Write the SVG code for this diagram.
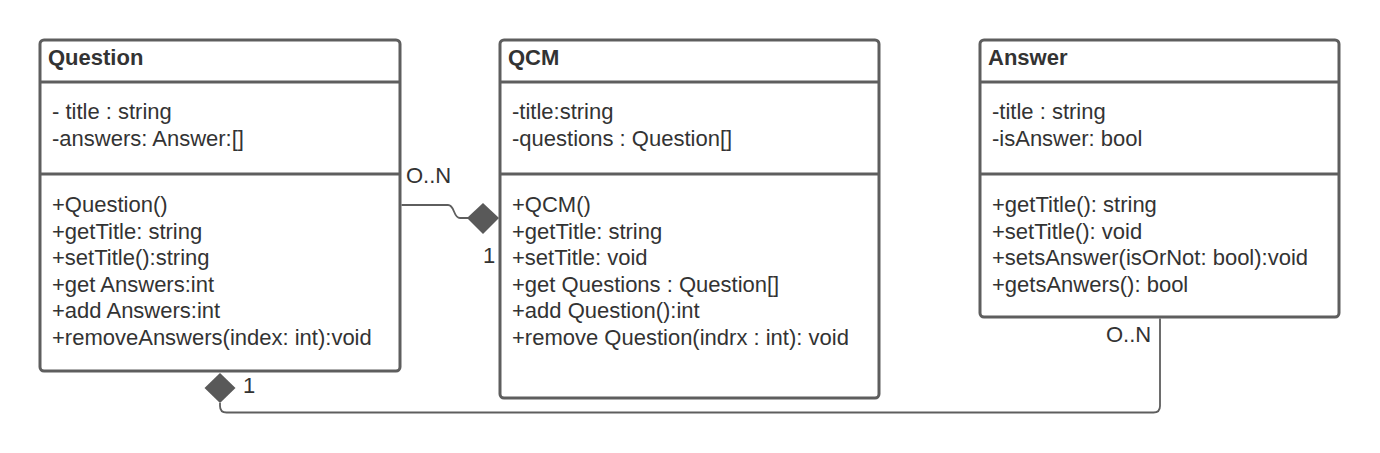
<svg xmlns="http://www.w3.org/2000/svg" width="1380" height="453" viewBox="0 0 1380 453">
<style>
.box{fill:#fff;stroke:#5e5e5e;stroke-width:3}
.div{stroke:#5e5e5e;stroke-width:3}
.t{font-family:"Liberation Sans",Arial,sans-serif;font-size:22px;fill:#333}
.h{font-family:"Liberation Sans",Arial,sans-serif;font-size:22px;font-weight:bold;fill:#333}
.c{fill:none;stroke:#5e5e5e;stroke-width:1.8}
.d{fill:#595959}
</style>
<rect width="1380" height="453" fill="#fff"/>
<g id="Question">
<rect class="box" x="40" y="40" width="360" height="331" rx="4"/>
<line class="div" x1="40" y1="82" x2="400" y2="82"/>
<line class="div" x1="40" y1="174" x2="400" y2="174"/>
<text class="h" x="48" y="65">Question</text>
<text class="t" x="52" y="119">- title : string</text>
<text class="t" x="52" y="145.5">-answers: Answer:[]</text>
<text class="t" x="52" y="212">+Question()</text>
<text class="t" x="52" y="238.5">+getTitle: string</text>
<text class="t" x="52" y="265">+setTitle():string</text>
<text class="t" x="52" y="291.5">+get Answers:int</text>
<text class="t" x="52" y="318">+add Answers:int</text>
<text class="t" x="52" y="344.5">+removeAnswers(index: int):void</text>
</g>
<g id="QCM">
<rect class="box" x="500" y="40" width="379" height="358" rx="4"/>
<line class="div" x1="500" y1="82" x2="879" y2="82"/>
<line class="div" x1="500" y1="174" x2="879" y2="174"/>
<text class="h" x="508" y="65">QCM</text>
<text class="t" x="512" y="119">-title:string</text>
<text class="t" x="512" y="145.5">-questions : Question[]</text>
<text class="t" x="512" y="212">+QCM()</text>
<text class="t" x="512" y="238.5">+getTitle: string</text>
<text class="t" x="512" y="265">+setTitle: void</text>
<text class="t" x="512" y="291.5">+get Questions : Question[]</text>
<text class="t" x="512" y="318">+add Question():int</text>
<text class="t" x="512" y="344.5">+remove Question(indrx : int): void</text>
</g>
<g id="Answer">
<rect class="box" x="980" y="40" width="359" height="277" rx="4"/>
<line class="div" x1="980" y1="82" x2="1339" y2="82"/>
<line class="div" x1="980" y1="174" x2="1339" y2="174"/>
<text class="h" x="988" y="65">Answer</text>
<text class="t" x="992" y="119">-title : string</text>
<text class="t" x="992" y="145.5">-isAnswer: bool</text>
<text class="t" x="992" y="212">+getTitle(): string</text>
<text class="t" x="992" y="238.5">+setTitle(): void</text>
<text class="t" x="992" y="265">+setsAnswer(isOrNot: bool):void</text>
<text class="t" x="992" y="291.5">+getsAnwers(): bool</text>
</g>
<g id="connectors">
<path class="c" d="M401.5 205 H448 C455 205 453 218 460 218 H468"/>
<polygon class="d" points="467,218 483,203 499,218 483,234"/>
<text class="t" x="406" y="183">O..N</text>
<text class="t" x="483" y="263">1</text>
<path class="c" d="M220 403 V406 Q220 412.5 226.5 412.5 H1153.5 Q1160 412.5 1160 406 V318.5"/>
<polygon class="d" points="220,373 235.5,388 220,403 204.5,388"/>
<text class="t" x="243" y="393">1</text>
<text class="t" x="1106" y="342">O..N</text>
</g>
</svg>
